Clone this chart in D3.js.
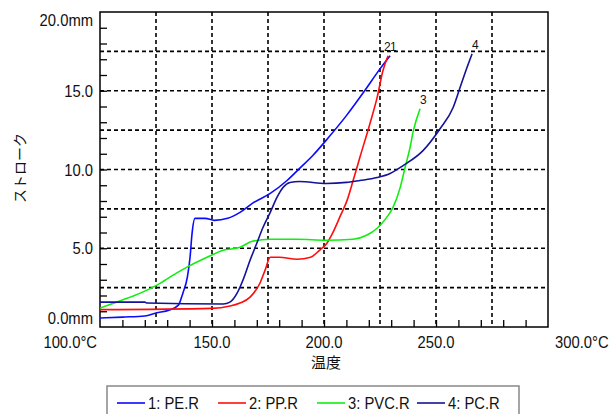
<!DOCTYPE html>
<html>
<head>
<meta charset="utf-8">
<script src="https://cdn.jsdelivr.net/npm/d3@7"></script>
<style>
body{margin:0;background:#fff;}
svg text{font-family:"Liberation Sans",Arial,sans-serif;fill:#111;}
</style>
</head>
<body>
<div id="chart"></div>
<script>
// readings: [temperature °C, stroke mm]
var pe = [[100,0.57],[110,0.63],[120,0.7],[125,0.89],[131,1.08],[135,1.39],[137,2.15],[139,3.16],[140.2,4.43],[141.1,5.95],[142.4,6.9],[147,6.9],[151,6.77],[157,6.9],[162.5,7.28],[168,7.85],[176,8.48],[183.5,9.3],[189,10.06],[195,10.89],[202,12.03],[210,13.42],[217.5,14.87],[225,16.39],[229.5,17.22]];
var pp = [[100,1.1],[150,1.18],[158,1.33],[162.5,1.52],[167,1.9],[171.4,2.78],[173.7,3.61],[176,4.43],[180,4.43],[188,4.3],[194,4.43],[198,4.87],[201.3,5.32],[204,6.01],[207,6.96],[210.3,8.04],[213,9.3],[216,10.76],[220.5,12.91],[223.7,14.56],[226.3,16.27],[228.6,17.22]];
var pvc = [[100,1.2],[110,1.71],[118,2.15],[125.4,2.66],[132.6,3.29],[138.8,3.8],[147.8,4.43],[155,4.87],[162.5,5.06],[168,5.44],[176,5.57],[188,5.57],[201,5.51],[213,5.57],[219,5.82],[223.7,6.27],[228,6.96],[230.8,7.59],[233.9,8.8],[236.2,10.13],[238.4,11.39],[239.9,12.47],[242.9,13.86]];
var pc = [[100,1.58],[120,1.58],[121,1.52],[155,1.46],[158,1.58],[161.2,2.15],[163.8,2.97],[167,4.24],[170,5.32],[172.8,6.33],[176,7.28],[179,8.23],[181.7,8.86],[184.8,9.18],[189,9.24],[201,9.11],[210,9.18],[216,9.3],[223.7,9.49],[229.5,9.75],[235.3,10.25],[244.2,11.2],[251.8,12.59],[257.6,13.92],[260.7,15.19],[263.8,16.46],[266.1,17.34]];

var seriesNames = ["1: PE.R","2: PP.R","3: PVC.R","4: PC.R"];
var endLabels = ["1","2","3","4"];
var colors = ["#0a0aff","#ff0d0d","#10ee10","#12129a"];

var xTickVals = [100,150,200,250,300];
var xTickText = ["100.0°C","150.0","200.0","250.0","300.0°C"];
var yTickVals = [0,5,10,15,20];
var yTickText = ["0.0mm","5.0","10.0","15.0","20.0mm"];

var svg = d3.select("#chart").append("svg").attr("width",611).attr("height",414);

var x = d3.scaleLinear().domain([100,300]).range([100,548]);
var y = d3.scaleLinear().domain([0,20]).range([327,12]);

// the reference font is a narrow one, squeeze Liberation Sans sideways
function narrow(sel, fx, fy){
    sel.attr("x",0).attr("y",0)
       .attr("transform",(d,i) => "translate("+fx(d,i)+","+fy(d,i)+") scale(0.87,1)")
       .attr("font-size",17);
}

// dashed grid every 25 degrees / 2.5 mm
svg.append("g").selectAll("line").data(d3.range(125,300,25)).enter().append("line")
    .attr("x1",d => x(d)).attr("x2",d => x(d)).attr("y1",y(20)).attr("y2",y(0))
    .attr("stroke","#000").attr("stroke-width",1.6).attr("stroke-dasharray","4,3");
svg.append("g").selectAll("line").data(d3.range(2.5,20,2.5)).enter().append("line")
    .attr("x1",x(100)).attr("x2",x(300)).attr("y1",d => y(d)).attr("y2",d => y(d))
    .attr("stroke","#000").attr("stroke-width",1.6).attr("stroke-dasharray","4,3");

// minor ticks pointing inward
var xAx = svg.append("g").attr("transform","translate(0,"+y(0)+")")
    .call(d3.axisBottom(x).tickValues(d3.range(110,300,10)).tickSize(-7).tickFormat(""));
var yAx = svg.append("g").attr("transform","translate("+x(100)+",0)")
    .call(d3.axisLeft(y).tickValues(d3.range(1,20,1)).tickSize(-7).tickFormat(""));
[xAx,yAx].forEach(function(a){
    a.select(".domain").remove();
    a.selectAll("line").attr("stroke","#000").attr("stroke-width",1.3);
});

// frame
svg.append("rect").attr("x",x(100)).attr("y",y(20)).attr("width",x(300)-x(100)).attr("height",y(0)-y(20))
    .attr("fill","none").attr("stroke","#000").attr("stroke-width",1.5);

// curves
svg.append("clipPath").attr("id","plot").append("rect")
    .attr("x",x(100)).attr("y",y(20)-2).attr("width",x(300)-x(100)).attr("height",y(0)-y(20)+2);
var line = d3.line().x(d => x(d[0])).y(d => y(d[1])).curve(d3.curveMonotoneX);
var all = [pe,pp,pvc,pc];
svg.append("g").attr("clip-path","url(#plot)").selectAll("path").data(all).enter().append("path")
    .attr("d",line).attr("fill","none").attr("stroke",(d,i) => colors[i]).attr("stroke-width",1.6);

// labels at the end of each curve
svg.append("g").selectAll("text").data(all).enter().append("text")
    .text((d,i) => endLabels[i])
    .attr("x",(d,i) => x(d[d.length-1][0]) + (i==1 ? -4 : 0))
    .attr("y",d => y(d[d.length-1][1]) - 5)
    .attr("font-size",12);

// tick labels
svg.append("g").selectAll("text").data(xTickVals).enter().append("text")
    .text((d,i) => xTickText[i])
    .attr("text-anchor",(d,i) => i==0 ? "end" : (i==xTickVals.length-1 ? "start" : "middle"))
    .call(narrow, (d,i) => i==0 ? x(d)-3 : (i==xTickVals.length-1 ? x(d)+7 : x(d)), () => 348);
svg.append("g").selectAll("text").data(yTickVals).enter().append("text")
    .text((d,i) => yTickText[i])
    .attr("text-anchor","end")
    .call(narrow, () => x(100)-7, (d,i) => y(d) + (i==0 ? -3 : (i==yTickVals.length-1 ? 14 : 6)));

// axis titles
svg.append("text").text("温度").attr("x",326).attr("y",368).attr("text-anchor","middle")
    .attr("font-size",15).style("font-family","'Noto Sans CJK JP',sans-serif");
svg.append("text").text("ストローク").attr("transform","translate(25,168) rotate(-90)").attr("text-anchor","middle")
    .attr("font-size",14).style("font-family","'Noto Sans CJK JP',sans-serif");

// legend
var legend = svg.append("g");
legend.append("rect").attr("x",107).attr("y",386).attr("width",412).attr("height",40)
    .attr("fill","none").attr("stroke","#888").attr("stroke-width",1.5);
var legX = [117,218,317,417];
var items = legend.selectAll("g").data(seriesNames).enter().append("g")
    .attr("transform",(d,i) => "translate("+legX[i]+",0)");
items.append("line").attr("x1",0).attr("x2",28).attr("y1",403).attr("y2",403)
    .attr("stroke",(d,i) => colors[i]).attr("stroke-width",1.6);
items.append("text").text(d => d).call(narrow, () => 31, () => 409);
</script>
</body>
</html>
